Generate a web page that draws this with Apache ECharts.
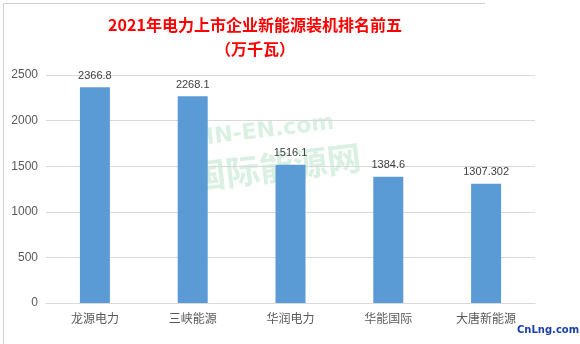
<!DOCTYPE html>
<html><head><meta charset="utf-8">
<script src="https://cdn.jsdelivr.net/npm/echarts@6/dist/echarts.min.js"></script>
<style>html,body{margin:0;padding:0;background:#fff}#c{width:580px;height:344px}</style>
</head><body><div id="c"></div>
<script>
const categories = ['龙源电力', '三峡能源', '华润电力', '华能国际', '大唐新能源'];
const values = [2366.8, 2268.1, 1516.1, 1384.6, 1307.302];
const valueLabels = ['2366.8', '2268.1', '1516.1', '1384.6', '1307.302'];
const titleLines = ['2021年电力上市企业新能源装机排名前五', '（万千瓦）'];

const chart = echarts.init(document.getElementById('c'));
chart.setOption({
  animation: false,
  backgroundColor: '#fff',
  title: {
    text: titleLines.join('\n'),
    left: 250, top: 8, textAlign: 'center',
    textStyle: { color: '#ff0000', fontSize: 16, fontWeight: 'bold', lineHeight: 24,
      fontFamily: '"Noto Sans CJK SC", sans-serif' }
  },
  graphic: [
    { type: 'line', shape: { x1: 3.5, y1: 3.5, x2: 485, y2: 3.5 }, style: { stroke: '#d0d0d0', lineWidth: 1 } },
    { type: 'line', shape: { x1: 3.5, y1: 3.5, x2: 3.5, y2: 344 }, style: { stroke: '#d0d0d0', lineWidth: 1 } },
    { type: 'text', left: 205, top: 112, rotation: 0.12, z: -1, style: { text: 'IN-EN.com', fill: 'rgba(120,200,150,0.28)', font: 'bold 22px "DejaVu Sans"' } },
    { type: 'text', left: 190, top: 140, rotation: 0.12, z: -1, style: { text: '国际能源网', fill: 'rgba(120,200,150,0.28)', font: 'bold 34px "Noto Sans CJK SC"' } },
    { type: 'text', left: 517, top: 325, style: { text: 'CnLng.com', fill: '#1a3fa8', font: 'bold 10px "DejaVu Sans"' } }
  ],
  grid: { left: 46, right: 45, top: 75, bottom: 41, containLabel: false },
  xAxis: {
    type: 'category', data: categories,
    axisLine: { lineStyle: { color: '#d9d9d9' } },
    axisTick: { show: false },
    axisLabel: { color: '#595959', fontSize: 12, margin: 9, interval: 0,
      fontFamily: '"Noto Sans CJK SC", sans-serif' }
  },
  yAxis: {
    type: 'value', min: 0, max: 2500, interval: 500,
    axisLine: { show: false }, axisTick: { show: false },
    axisLabel: { color: '#595959', fontSize: 12, margin: 8, fontFamily: '"Liberation Sans", sans-serif',
      formatter: v => String(v) },
    splitLine: { lineStyle: { color: '#d9d9d9' } }
  },
  series: [{
    type: 'bar', data: values, barWidth: 30,
    itemStyle: { color: '#5b9bd5' },
    label: { show: true, position: 'top', distance: 6, color: '#404040', fontSize: 11,
      fontFamily: '"Liberation Sans", sans-serif',
      formatter: p => valueLabels[p.dataIndex] }
  }]
});
</script></body></html>
